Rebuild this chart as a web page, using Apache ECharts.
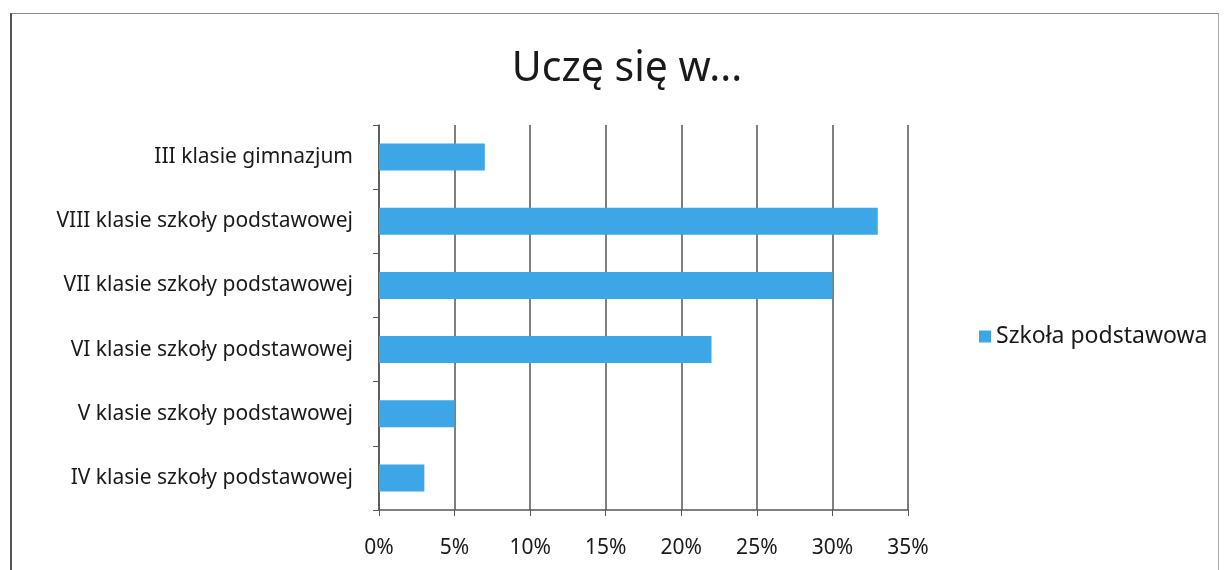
<!DOCTYPE html>
<html>
<head>
<meta charset="utf-8">
<script src="https://cdn.jsdelivr.net/npm/echarts@6/dist/echarts.min.js"></script>
<style>
  html, body { margin: 0; padding: 0; background: #fff; }
  #frame { position: absolute; left: 10px; top: 13px; width: 1206px; height: 570px;
           border-left: 2px solid #555; border-top: 1px solid #888; border-right: 1px solid #aaa; }
  #chart { position: absolute; left: 0; top: 0; width: 1227px; height: 570px; }
</style>
</head>
<body>
<div id="frame"></div>
<div id="chart"></div>
<script>
// dane
var categories = [
    'IV klasie szkoły podstawowej',
    'V klasie szkoły podstawowej',
    'VI klasie szkoły podstawowej',
    'VII klasie szkoły podstawowej',
    'VIII klasie szkoły podstawowej',
    'III klasie gimnazjum'
];
var values = [3, 5, 22, 30, 33, 7];
var seriesName = 'Szkoła podstawowa';
var titleText = 'Uczę się w...';

var font = 'Noto Sans';

var option = {
    animation: false,
    textStyle: { fontFamily: font },
    title: {
        text: titleText,
        left: 622,
        textAlign: 'center',
        top: 44,
        textStyle: { fontFamily: font, fontSize: 41, fontWeight: 'normal', color: '#1a1a1a' }
    },
    legend: {
        data: [seriesName],
        orient: 'vertical',
        left: 974,
        top: 320,
        icon: 'rect',
        itemWidth: 12,
        itemHeight: 12,
        itemGap: 6,
        textStyle: { fontFamily: font, fontSize: 23, color: '#1a1a1a' }
    },
    grid: {
        left: 379,
        right: 319,
        top: 125,
        bottom: 60
    },
    xAxis: {
        type: 'value',
        min: 0,
        max: 35,
        interval: 5,
        axisLine: { show: true, lineStyle: { color: '#555', width: 1.5 } },
        axisTick: { show: true, length: 6, lineStyle: { color: '#555' } },
        axisLabel: {
            formatter: '{value}%',
            fontFamily: font,
            fontSize: 21,
            color: '#1a1a1a',
            margin: 28
        },
        splitLine: { show: true, lineStyle: { color: '#555', width: 1.5 } }
    },
    yAxis: {
        type: 'category',
        data: categories,
        axisLine: { show: true, lineStyle: { color: '#555', width: 1.5 } },
        axisTick: { show: true, length: 6, lineStyle: { color: '#555' } },
        axisLabel: {
            fontFamily: font,
            fontSize: 21,
            color: '#1a1a1a',
            margin: 26
        }
    },
    series: [{
        name: seriesName,
        type: 'bar',
        data: values,
        barCategoryGap: '58%',
        itemStyle: { color: '#3ba7e6' }
    }]
};

var chart = echarts.init(document.getElementById('chart'));
chart.setOption(option);
</script>
</body>
</html>
